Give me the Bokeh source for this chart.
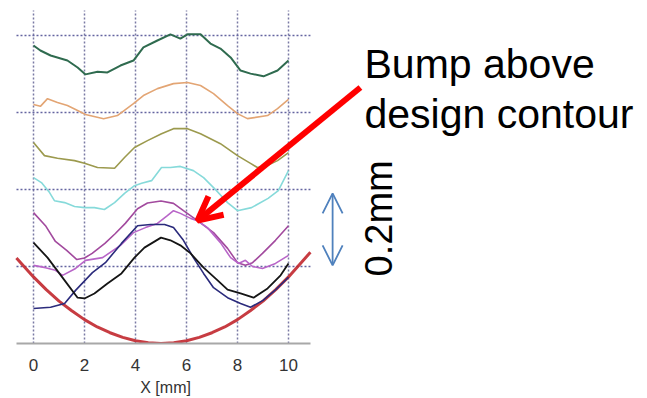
from bokeh.plotting import figure
from bokeh.models import Range1d, FixedTicker, Label, Arrow, OpenHead, LinearAxis, CustomJSTickFormatter
from bokeh.embed import file_html
from bokeh.resources import INLINE

# ---------------- data (X in mm, profile height in mm) ----------------
x_ticks = [0, 2, 4, 6, 8, 10]
h_grid = [0.2, 0.4, 0.6, 0.8]
x_title = "X [mm]"

design_x = [-0.67, 0, 0.5, 1, 1.5, 2, 2.5, 3, 3.5, 4, 4.5, 5, 5.5, 6, 6.5, 7, 7.5, 8, 8.5, 9, 9.5, 10, 10.86]
design_y = [0.222, 0.173, 0.140, 0.110, 0.085, 0.062, 0.043, 0.028, 0.016, 0.007, 0.002, 0.0, 0.002, 0.007,
            0.016, 0.028, 0.043, 0.062, 0.085, 0.110, 0.140, 0.173, 0.237]

green_x = [0, 0.27, 0.67, 1.33, 1.73, 2.04, 2.51, 2.90, 3.41, 3.92, 4.31, 4.86, 5.37, 5.76, 6.04, 6.55, 6.94,
           7.33, 7.73, 8.12, 8.51, 9.02, 9.57, 10.0]
green_y = [0.774, 0.761, 0.748, 0.735, 0.717, 0.699, 0.706, 0.704, 0.722, 0.735, 0.769, 0.787, 0.803, 0.792,
           0.803, 0.803, 0.779, 0.766, 0.743, 0.709, 0.701, 0.694, 0.709, 0.735]

orange_x = [0, 0.27, 0.55, 0.94, 1.33, 1.73, 2.04, 2.75, 3.29, 3.92, 4.31, 4.86, 5.49, 6.04, 6.55, 7.06, 7.61,
            8.0, 8.39, 9.18, 9.57, 10.0]
orange_y = [0.621, 0.616, 0.636, 0.626, 0.618, 0.605, 0.595, 0.584, 0.592, 0.623, 0.644, 0.662, 0.675, 0.678,
            0.670, 0.649, 0.618, 0.597, 0.584, 0.592, 0.610, 0.634]

olive_x = [0, 0.43, 0.94, 1.61, 2.0, 2.51, 3.18, 3.57, 3.96, 4.47, 5.02, 5.49, 6.04, 6.55, 7.33, 8.0, 8.51,
           8.78, 9.10, 9.57, 10.0]
olive_y = [0.522, 0.488, 0.481, 0.475, 0.468, 0.457, 0.455, 0.483, 0.509, 0.527, 0.545, 0.558, 0.558, 0.545,
           0.519, 0.488, 0.468, 0.457, 0.460, 0.475, 0.496]

cyan_x = [0, 0.31, 0.63, 0.82, 1.22, 1.61, 2.0, 2.39, 2.78, 3.18, 3.57, 3.96, 4.24, 4.63, 5.02, 5.37, 5.76,
          6.27, 6.67, 7.06, 7.61, 8.0, 8.55, 9.2, 9.6, 10.0]
cyan_y = [0.431, 0.418, 0.392, 0.371, 0.366, 0.356, 0.353, 0.353, 0.348, 0.366, 0.390, 0.410, 0.416, 0.423,
          0.457, 0.457, 0.460, 0.449, 0.431, 0.405, 0.366, 0.345, 0.353, 0.377, 0.397, 0.449]

purple_x = [0, 0.47, 0.86, 1.3, 1.7, 2.0, 2.3, 2.8, 3.2, 3.6, 4.08, 4.47, 5.0, 5.49, 5.88, 6.43, 7.06, 7.61,
            8.0, 8.31, 8.59, 8.98, 9.49, 10.0]
purple_y = [0.340, 0.306, 0.265, 0.242, 0.218, 0.222, 0.234, 0.260, 0.285, 0.312, 0.350, 0.365, 0.370, 0.364,
            0.345, 0.319, 0.288, 0.247, 0.210, 0.203, 0.210, 0.234, 0.268, 0.306]

magenta_x = [0, 0.47, 0.86, 1.14, 1.65, 2.04, 2.71, 3.41, 3.92, 4.39, 4.86, 5.25, 5.49, 5.76, 6.16, 6.43,
             6.82, 7.33, 7.73, 8.04, 8.31, 8.59, 8.98, 9.49, 10.0]
magenta_y = [0.203, 0.197, 0.190, 0.177, 0.195, 0.216, 0.223, 0.255, 0.288, 0.301, 0.312, 0.332, 0.345, 0.338,
             0.325, 0.319, 0.301, 0.262, 0.223, 0.208, 0.216, 0.200, 0.195, 0.208, 0.229]

navy_x = [0, 0.67, 1.22, 1.65, 2.31, 2.82, 3.45, 4.08, 4.59, 5.14, 5.49, 5.88, 6.27, 6.67, 7.06, 7.61, 8.12,
          8.51, 9.0, 9.5, 10.0]
navy_y = [0.091, 0.094, 0.104, 0.138, 0.184, 0.210, 0.260, 0.306, 0.309, 0.309, 0.301, 0.268, 0.223, 0.182,
          0.145, 0.119, 0.104, 0.094, 0.112, 0.140, 0.172]

black_x = [0, 0.55, 1.22, 1.73, 2.0, 2.39, 2.9, 3.45, 3.96, 4.35, 5.0, 5.37, 5.76, 6.16, 6.67, 7.22, 7.61,
           8.12, 8.63, 9.18, 9.69, 10.0]
black_y = [0.262, 0.223, 0.164, 0.119, 0.117, 0.130, 0.156, 0.182, 0.223, 0.249, 0.275, 0.268, 0.255, 0.234,
           0.197, 0.164, 0.140, 0.130, 0.119, 0.143, 0.177, 0.208]

# ---------------- figure ----------------
W, H = 647, 398
px_per_mm_x = 25.5
px_per_mm_y = 385.0
frame_h = 343
x0 = -33.0 / px_per_mm_x
p = figure(width=W, height=H, output_backend="svg", toolbar_location=None, title=None,
           x_range=Range1d(x0, x0 + W / px_per_mm_x),
           y_range=Range1d(0, frame_h / px_per_mm_y),
           y_axis_location=None,
           min_border_left=0, min_border_right=0, min_border_top=0, min_border_bottom=H - frame_h)
p.outline_line_color = None
p.background_fill_color = "white"
p.border_fill_color = "white"

chart_left, chart_right, chart_top = -0.667, 10.86, 0.865

# tick-label axis
ax = p.xaxis[0]
ax.ticker = FixedTicker(ticks=x_ticks)
ax.bounds = (chart_left, chart_right)
ax.axis_line_color = "#a8a8a8"
ax.axis_line_width = 2
ax.major_tick_line_color = None
ax.minor_tick_line_color = None
ax.major_tick_out = 0
ax.major_tick_in = 0
ax.major_label_standoff = 15
ax.major_label_text_font = "Liberation Sans"
ax.major_label_text_font_size = "17px"
ax.major_label_text_color = "#333333"

# axis carrying the title "X [mm]" centred under the chart
title_axis = LinearAxis(ticker=FixedTicker(ticks=[5.18]),
                        formatter=CustomJSTickFormatter(args=dict(t=x_title), code="return t"),
                        axis_line_color=None, major_tick_line_color=None, minor_tick_line_color=None,
                        major_tick_out=0, major_tick_in=0, major_label_standoff=5,
                        major_label_text_font="Liberation Sans", major_label_text_font_size="16px",
                        major_label_text_color="#333333")
p.add_layout(title_axis, "below")

# grids
p.xgrid.visible = False
p.ygrid.visible = False
p.segment(x0=x_ticks, y0=[0] * len(x_ticks), x1=x_ticks, y1=[chart_top] * len(x_ticks),
          line_color="#7a7aa4", line_width=1.5, line_dash="2 2")
p.segment(x0=[chart_left] * len(h_grid), y0=h_grid, x1=[chart_right] * len(h_grid), y1=h_grid,
          line_color="#6464a0", line_width=1.6, line_dash="2 2")

# curves
p.line(design_x, design_y, line_color="#c1272d", line_width=3, line_alpha=0.9)
p.line(green_x, green_y, line_color="#2f6b4f", line_width=2)
p.line(orange_x, orange_y, line_color="#e3a574", line_width=1.6)
p.line(olive_x, olive_y, line_color="#9c9a4e", line_width=1.6)
p.line(cyan_x, cyan_y, line_color="#86dada", line_width=1.6)
p.line(purple_x, purple_y, line_color="#a24a9e", line_width=1.6)
p.line(magenta_x, magenta_y, line_color="#b865c8", line_width=1.6)
p.line(navy_x, navy_y, line_color="#2b2b7c", line_width=1.6)
p.line(black_x, black_y, line_color="#151515", line_width=1.8)

# annotations
red_tail = (12.82, 0.665)
red_tip = (6.43, 0.319)
p.add_layout(Arrow(x_start=red_tail[0], y_start=red_tail[1], x_end=red_tip[0], y_end=red_tip[1],
                   line_color="#ff0000", line_width=6,
                   end=OpenHead(size=24, line_color="#ff0000", line_width=6)))

scale_x = 11.73
scale_lo, scale_hi = 0.203, 0.390
p.add_layout(Arrow(x_start=scale_x, y_start=scale_lo, x_end=scale_x, y_end=scale_hi,
                   line_color="#4f81bd", line_width=1.8,
                   start=OpenHead(size=20, line_color="#4f81bd", line_width=1.8),
                   end=OpenHead(size=20, line_color="#4f81bd", line_width=1.8)))

for txt, yy in [("Bump above", 0.727), ("design contour", 0.597)]:
    p.add_layout(Label(x=12.98, y=yy, text=txt, text_font="Liberation Sans", text_font_size="41px",
                       text_color="black", text_baseline="alphabetic", text_align="left"))

p.add_layout(Label(x=13.53, y=0.325, text="0.2mm", angle=90, angle_units="deg",
                   text_font="Liberation Sans", text_font_size="38px", text_color="black",
                   text_align="center", text_baseline="middle"))

open("out.html", "w").write(file_html(p, INLINE))
